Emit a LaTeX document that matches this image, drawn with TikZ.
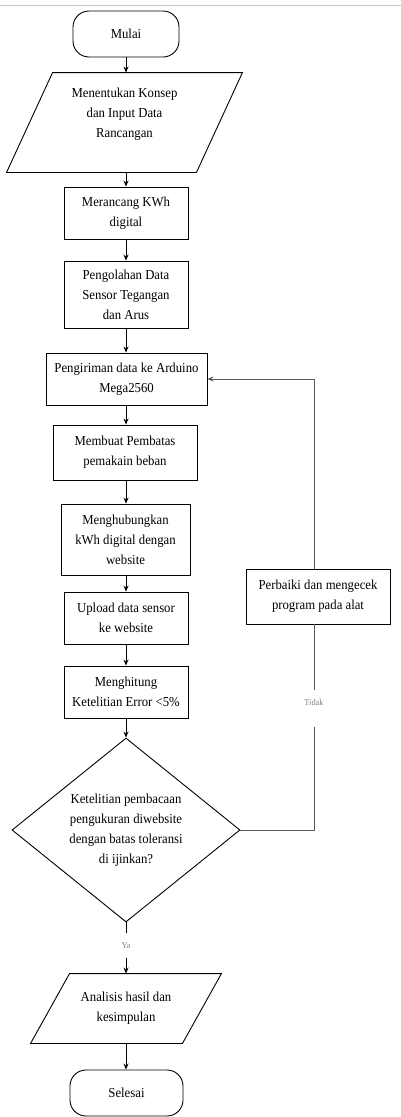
\documentclass[tikz,border=0pt]{standalone}
\usepackage{fontspec}
\setmainfont{Liberation Serif}[FakeStretch=0.93]
\usetikzlibrary{shapes.geometric,calc,arrows.meta}
\begin{document}
\begin{tikzpicture}[x=1pt,y=-1pt,
  base/.style={font=\fontsize{13.7}{20}\selectfont, align=center, inner sep=0pt, line width=0.9pt},
  procbox/.style={base, draw, rectangle},
  termbox/.style={base, draw, rectangle, rounded corners=16pt},
  iobox/.style={base, rectangle},
  decbox/.style={base, draw, diamond, aspect=1.24},
  tip/.style={-{Stealth[length=6pt,width=5pt]}},
  arr/.style={line width=0.9pt, tip},
  fb/.style={line width=0.9pt, draw=black!65},
  lbl/.style={font=\fontsize{9}{10}\selectfont, text=black!50, inner sep=0pt}
]
\useasboundingbox (0,0) rectangle (401,1117);
\draw[black!22, line width=1pt] (0,5) -- (401,5);

\node[termbox, minimum width=106pt, minimum height=46pt] (mulai) at (126,34) {Mulai};
\node[iobox, minimum width=189pt, minimum height=99pt] (p1) at (124.5,122.5) {Menentukan Konsep\\dan Input Data\\Rancangan\\\mbox{}};
\draw[line width=0.9pt] ($(p1.north west)+(23,0)$) -- ($(p1.north east)+(23,0)$) -- ($(p1.south east)+(-23,0)$) -- ($(p1.south west)+(-23,0)$) -- cycle;
\node[procbox, minimum width=124pt, minimum height=52pt] (b2) at (126,213) {Merancang KWh\\digital};
\node[procbox, minimum width=124pt, minimum height=67pt] (b3) at (126,294.5) {Pengolahan Data\\Sensor Tegangan\\dan Arus};
\node[procbox, minimum width=161pt, minimum height=52pt] (b4) at (126.5,379) {Pengiriman data ke Arduino\\Mega2560};
\node[procbox, minimum width=144pt, minimum height=55pt] (b5) at (125,452.5) {Membuat Pembatas\\pemakain beban};
\node[procbox, minimum width=129pt, minimum height=71pt] (b6) at (125.5,539.5) {Menghubungkan\\kWh digital dengan\\website};
\node[procbox, minimum width=124pt, minimum height=52pt] (b7) at (126,618) {Upload data sensor\\ke website};
\node[procbox, minimum width=124pt, minimum height=52pt] (b8) at (126,692) {Menghitung\\Ketelitian Error <5\%};
\node[decbox, minimum width=228pt, minimum height=184pt] (dec) at (126,830) {Ketelitian pembacaan\\pengukuran diwebsite\\dengan batas toleransi\\di ijinkan?};
\node[procbox, minimum width=144pt, minimum height=55pt] (perb) at (318,596.5) {Perbaiki dan mengecek\\program pada alat};
\node[iobox, minimum width=151pt, minimum height=69pt] (p2) at (126,1008.5) {Analisis hasil dan\\kesimpulan};
\draw[line width=0.9pt] ($(p2.north west)+(19.5,0)$) -- ($(p2.north east)+(19.5,0)$) -- ($(p2.south east)+(-19.5,0)$) -- ($(p2.south west)+(-19.5,0)$) -- cycle;
\node[termbox, minimum width=113pt, minimum height=46pt] (selesai) at (126.5,1093) {Selesai};

\node[lbl, minimum height=37pt, text depth=13pt] (tidak) at (314,708.5) {Tidak};
\node[lbl, minimum height=25pt] (ya) at (126,945.5) {Ya};

\draw[arr] (mulai.south) -- (mulai.south |- p1.north);
\draw[arr] (b2.north |- p1.south) -- (b2.north);
\draw[arr] (b2.south) -- (b3.north);
\draw[arr] (b3.south) -- (b3.south |- b4.north);
\draw[arr] (b3.south |- b4.south) -- (b3.south |- b5.north);
\draw[arr] (b3.south |- b5.south) -- (b3.south |- b6.north);
\draw[arr] (b3.south |- b6.south) -- (b7.north);
\draw[arr] (b7.south) -- (b8.north);
\draw[arr] (b8.south) -- (b8.south |- dec.north);
\draw[line width=0.9pt] (dec.south) -- (ya.north);
\draw[arr] (ya.south) -- (ya.south |- p2.north);
\draw[arr] (ya.south |- p2.south) -- (ya.south |- selesai.north);

\draw[fb] (dec.east) -| (tidak.south);
\draw[fb] (tidak.north) -- (tidak.north |- perb.south);
\draw[fb, tip] (tidak.north |- perb.north) |- (b4.east);
\end{tikzpicture}
\end{document}
